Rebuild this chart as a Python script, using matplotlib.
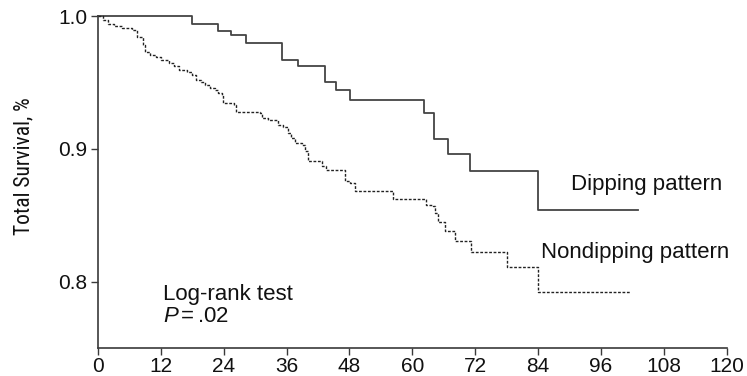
import matplotlib
matplotlib.use("Agg")
import matplotlib.pyplot as plt
from matplotlib import font_manager

# Kaplan-Meier survival: event times (months) and survival after each step
dip_t = [0, 18.0, 23.0, 25.3, 28.3, 35.1, 38.1, 43.4, 45.4, 48.2, 62.2, 64.2, 66.9, 71.0, 84.0, 103.0]
dip_s = [1.0, 0.994, 0.989, 0.9855, 0.9795, 0.967, 0.962, 0.950, 0.944, 0.937, 0.927, 0.9075, 0.896, 0.8835, 0.854, 0.854]

nondip_t = [0, 1.0, 2.0, 3.0, 4.5, 6.5, 7.5, 8.5, 9.0, 10.0, 11.0, 12.0, 13.5, 14.5, 15.5,
            17.0, 18.0, 18.8, 19.7, 20.4, 21.3, 22.3, 22.9, 23.6, 23.8, 26.0, 26.3, 31.0,
            31.3, 32.5, 34.3, 35.3, 36.3, 36.9, 37.6, 38.9, 39.5, 40.0, 42.7, 43.6, 47.1,
            48.1, 49.0, 56.4, 62.7, 64.0, 64.3, 64.9, 66.2, 68.1, 71.3, 78.0, 84.0, 101.5]
nondip_s = [1.0, 0.997, 0.994, 0.9925, 0.991, 0.9895, 0.9845, 0.978, 0.973, 0.9705, 0.969,
            0.967, 0.9645, 0.962, 0.9595, 0.958, 0.9555, 0.952, 0.9505, 0.948, 0.9456,
            0.9444, 0.942, 0.9406, 0.9344, 0.933, 0.928, 0.9268, 0.923, 0.9218, 0.918,
            0.9163, 0.912, 0.9083, 0.9045, 0.9032, 0.898, 0.8907, 0.887, 0.884, 0.8757,
            0.8745, 0.868, 0.8625, 0.858, 0.857, 0.852, 0.845, 0.838, 0.8307, 0.8224,
            0.8107, 0.792, 0.792]

x_ticks = [0, 12, 24, 36, 48, 60, 72, 84, 96, 108, 120]
y_ticks = [0.8, 0.9, 1.0]
y_tick_labels = ["0.8", "0.9", "1.0"]


def pick_font(candidates):
    names = {f.name for f in font_manager.fontManager.ttflist}
    for c in candidates:
        if c in names:
            return c
    return "DejaVu Sans"


main_font = pick_font(["Liberation Sans", "Arimo", "DejaVu Sans"])
narrow_font = pick_font(["Liberation Sans Narrow", "Roboto Condensed", "Archivo Narrow",
                         "Sofia Sans Condensed"])

plt.rcParams["font.family"] = [main_font, "DejaVu Sans"]
plt.rcParams["mathtext.fontset"] = "custom"
plt.rcParams["mathtext.rm"] = main_font
plt.rcParams["mathtext.it"] = main_font + ":italic"

fig = plt.figure(figsize=(7.47, 3.76), dpi=100)
ax = fig.add_axes([0.1312, 0.0745, 0.8415, 0.8829])

axis_col = "#3a3a3a"
ax.step(dip_t, dip_s, where="post", color="#444444", lw=1.3, clip_on=False)
ax.step(nondip_t, nondip_s, where="post", color="#222222", lw=1.0,
        linestyle=(0, (2.0, 1.2)), clip_on=False)

ax.set_xlim(0, 120)
ax.set_ylim(0.75, 1.0)
ax.set_xticks(x_ticks)
ax.set_yticks(y_ticks)
ax.set_yticklabels(y_tick_labels)

for side in ("top", "right"):
    ax.spines[side].set_visible(False)
for side in ("left", "bottom"):
    ax.spines[side].set_color(axis_col)
    ax.spines[side].set_linewidth(1.2)

ax.tick_params(axis="both", direction="out", length=5, width=1.0, color=axis_col,
               labelsize=15, labelcolor="#111111", pad=1.5)
ax.tick_params(axis="y", pad=2.5)

fig.text(24 / 747, 1 - 166 / 376, "Total Survival, %", fontsize=15.5,
         family=[narrow_font, "DejaVu Sans"], color="#111111",
         rotation=90, ha="center", va="center")

ann = dict(fontsize=16, color="#111111", va="center", ha="left")
ax.text(90.2, 0.873, "Dipping pattern", **ann)
ax.text(84.5, 0.822, "Nondipping pattern", **ann)
ax.text(12.4, 0.790, "Log-rank test", **ann)
ax.text(12.4, 0.7735, r"$\mathit{P}\,$=$\,$.02", **ann)

fig.savefig("out.png", dpi=100)
